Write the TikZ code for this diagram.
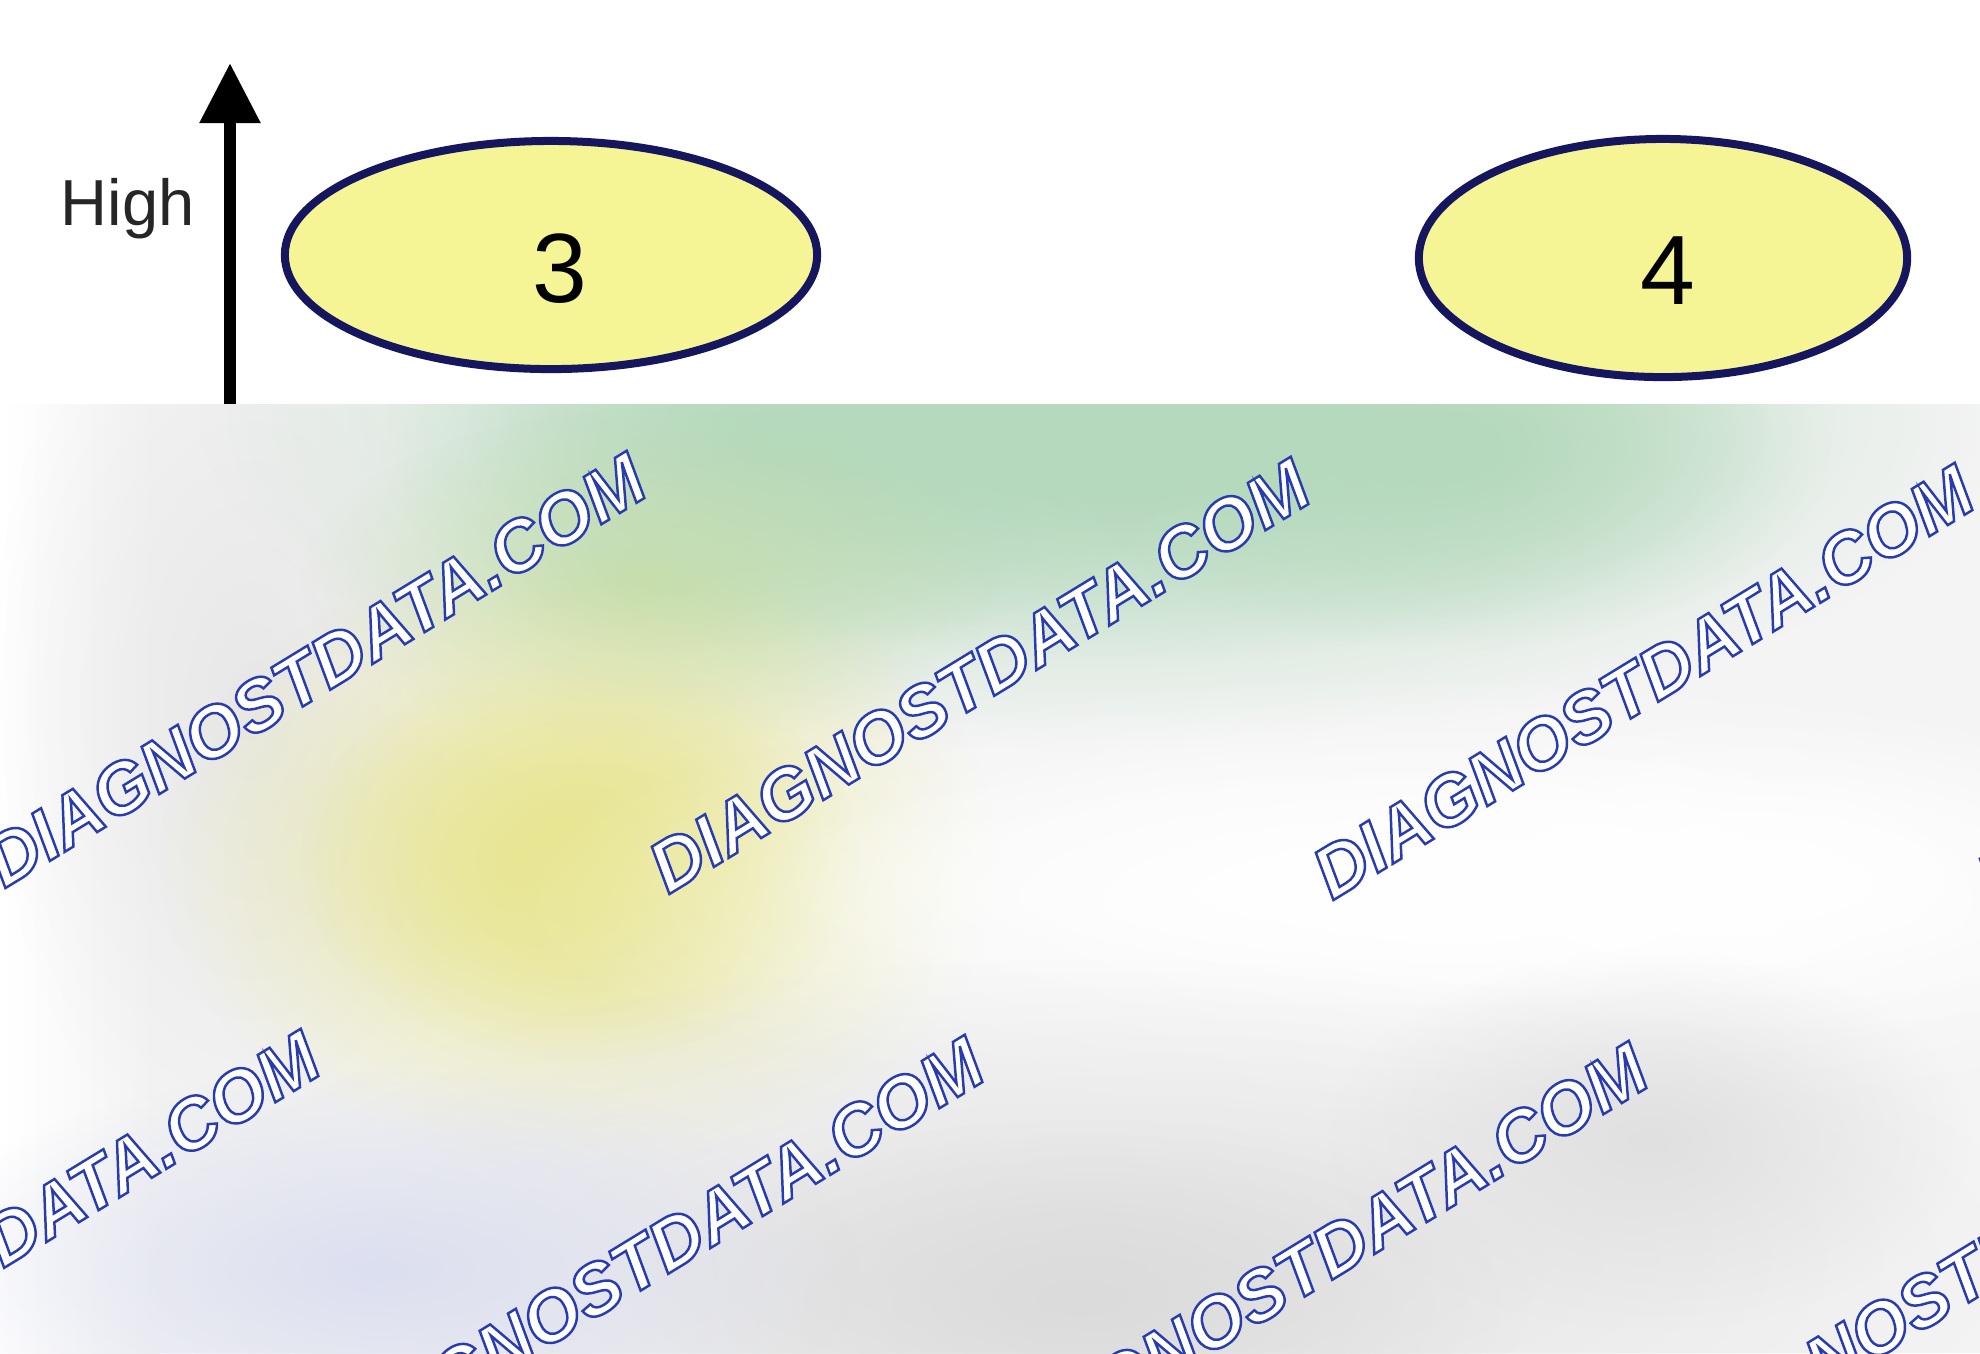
\documentclass[tikz,border=0pt]{standalone}
\usepackage{fontspec}
\setmainfont{Liberation Sans}
\usetikzlibrary{shapes.geometric,arrows.meta,fadings}

\definecolor{ovalfill}{RGB}{245,245,150}
\definecolor{ovalline}{RGB}{22,22,95}
\definecolor{blurgreen}{RGB}{180,217,188}
\definecolor{bluryellow}{RGB}{232,230,145}
\definecolor{blurlilac}{RGB}{220,223,240}

\tikzfading[name=blobfade, inner color=transparent!0, outer color=transparent!100]

\tikzset{
  oval/.style={ellipse, draw=ovalline, fill=ovalfill, line width=0.08cm,
    inner sep=0pt, font=\fontsize{28}{30}\selectfont},
  wm/.style={rotate=31.4, inner sep=0pt, text=white,
    font=\fontsize{20.5}{22}\selectfont\bfseries\itshape},
  blob/.style={path fading=blobfade}
}

% outlined watermark text (white fill, blue stroke)
\newcommand\wmtext{\special{pdf:code 0.157 0.235 0.686 RG 0.7 w 2 Tr}%
  DIAGNOSTDATA.COM\special{pdf:code 0 Tr}}

\begin{document}
\begin{tikzpicture}[x=0.01cm, y=-0.01cm]
\useasboundingbox (0,0) rectangle (1980,1353);
\fill[white] (0,0) rectangle (1980,1353);

% scale arrow
\coordinate (foot) at (230,410);
\coordinate (tip) at (230,63);
\draw[line width=0.12cm, -{Triangle[width=0.58cm, length=0.6cm]}] (foot) -- (tip);
\node[font=\fontsize{18.5}{20}\selectfont, text=black!85, anchor=base east] (high) at (207,225) {High};

% levels
\node[oval, minimum width=5.32cm, minimum height=2.28cm] (three) at (551,255)
  {\hspace*{0.18cm}\rule{0pt}{0.96cm}3};
\node[oval, minimum width=4.88cm, minimum height=2.38cm] (four) at (1663,258)
  {\hspace*{0.1cm}\rule{0pt}{0.92cm}4};

% blurred lower part
\begin{scope}
\clip (0,404) rectangle (1980,1353);
\fill[gray!9] (0,404) rectangle (1980,1353);
\shade[left color=white, right color=gray!9] (0,404) rectangle (160,1353);
\fill[gray!18, blob] (250,700) ellipse (260 and 480);
\fill[blurgreen, blob] (1100,420) ellipse (900 and 330);
\fill[blurgreen, blob] (1120,430) ellipse (650 and 230);
\fill[blurgreen, blob] (780,450) ellipse (400 and 200);
\fill[blurgreen, blob] (1450,450) ellipse (380 and 200);
\fill[blurgreen!70!bluryellow, blob] (650,580) ellipse (350 and 170);
\fill[bluryellow, blob] (580,860) ellipse (420 and 310);
\fill[bluryellow, blob] (580,860) ellipse (280 and 200);
\fill[white, blob] (1450,900) ellipse (950 and 230);
\fill[white, blob] (1400,880) ellipse (650 and 150);
\fill[white, blob] (1750,880) ellipse (500 and 170);
\fill[gray!22, blob] (1100,1260) ellipse (950 and 300);
\fill[gray!28, blob] (1080,1300) ellipse (450 and 180);
\fill[gray!24, blob] (1650,1140) ellipse (320 and 190);
\fill[blurlilac, blob] (380,1270) ellipse (480 and 200);

\foreach \wx/\wy [count=\k] in {315/670, 979/676, 1643/682, 2307/688,
                     -11/1248, 653/1254, 1317/1260, 1981/1266}
  \node[wm] (mark\k) at (\wx,\wy) {\wmtext};
\end{scope}
\end{tikzpicture}
\end{document}
